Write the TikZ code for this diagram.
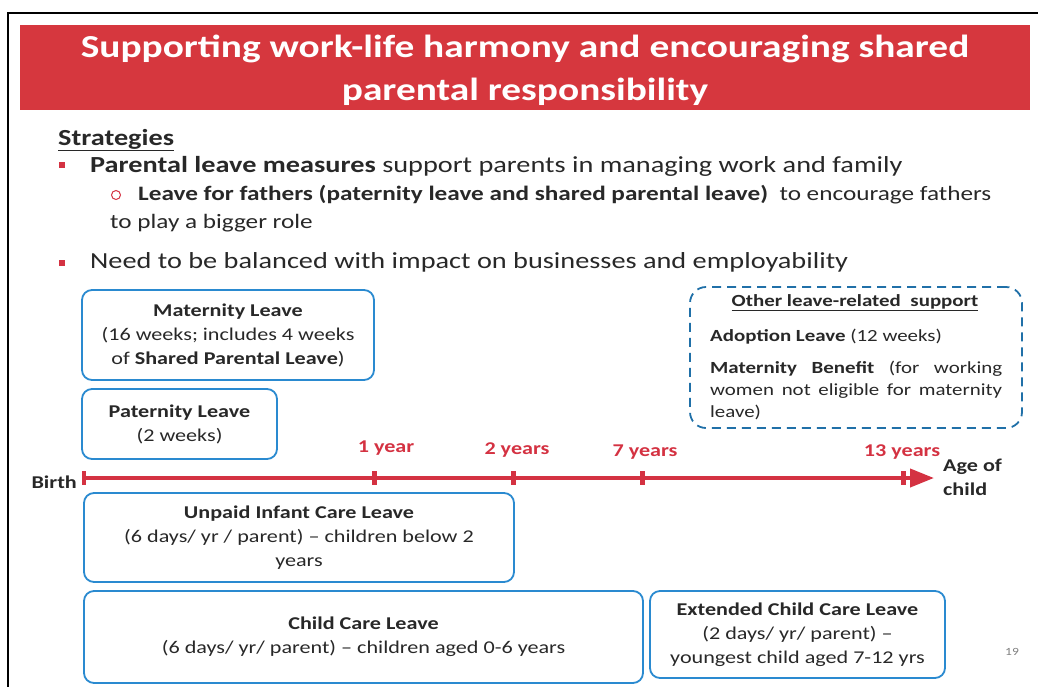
\documentclass[tikz,border=0pt]{standalone}
\usepackage{fontspec}
\setmainfont{Carlito}[FakeStretch=1.23]
\usetikzlibrary{positioning, arrows.meta}
\definecolor{bannerred}{RGB}{214,55,62}
\definecolor{boxblue}{RGB}{42,138,208}
\definecolor{dashblue}{RGB}{32,112,168}
\definecolor{axisred}{RGB}{212,50,66}
\definecolor{textgray}{RGB}{40,40,40}

\begin{document}
\begin{tikzpicture}[
	x=1pt, y=-1pt,
	leavebox/.style={draw=boxblue, line width=1.8pt, rounded corners=10pt, align=center, inner sep=0pt, text=textgray, font=\fontsize{18}{24}\selectfont},
	otherbox/.style={draw=dashblue, line width=1.8pt, dash pattern=on 9pt off 6pt, rounded corners=16pt, inner sep=0pt},
	bodytext/.style={anchor=base west, inner sep=0pt, text=textgray, font=\fontsize{23}{28}\selectfont},
	subtext/.style={anchor=base west, inner sep=0pt, text=textgray, font=\fontsize{20.5}{26}\selectfont},
	yearlabel/.style={anchor=base, inner sep=0pt, text=axisred, font=\bfseries\fontsize{18}{22}\selectfont},
	axislabel/.style={inner sep=0pt, text=textgray, font=\bfseries\fontsize{18}{24}\selectfont},
	bulletsq/.style={rectangle, fill=axisred, minimum size=6pt, inner sep=0pt},
	tick/.style={rectangle, fill=axisred, minimum width=5pt, minimum height=14pt, inner sep=0pt},
	>=LaTeX
]
\useasboundingbox (0,0) rectangle (1038,686);
\draw[line width=1.4pt] (8,13) rectangle (1060,710);

% title banner
\node[fill=bannerred, minimum width=1010pt, minimum height=85pt, inner sep=0pt] (banner) at (525,67.5) {};
\node[align=center, text=white, font=\bfseries\fontsize{32}{43}\selectfont] (title) at (525,70) {Supporting work-life harmony and encouraging shared\\parental responsibility};

% strategies
\node[bodytext] (strategies) at (58,145) {\bfseries\underline{Strategies}};
\node[bulletsq] (bullet1) at (62,165) {};
\node[bodytext] (point1) at (90,172) {\bfseries Parental leave measures \mdseries support parents in managing work and family};
\node[circle, draw=axisred, line width=1pt, minimum size=9pt, inner sep=0pt] (circ) at (116,195) {};
\node[subtext] (point1a) at (138,200) {\bfseries Leave for fathers (paternity leave and shared parental leave) \mdseries\ to encourage fathers};
\node[subtext] (point1b) at (110,228) {to play a bigger role};
\node[bulletsq] (bullet2) at (62,263) {};
\node[bodytext] (point2) at (90,268) {Need to be balanced with impact on businesses and employability};

% leave boxes
\node[leavebox, minimum width=292pt, minimum height=90pt] (maternity) at (228,335) {\bfseries Maternity Leave\\(16 weeks; includes 4 weeks\\of \bfseries Shared Parental Leave\mdseries)};
\node[leavebox, minimum width=195pt, minimum height=70pt] (paternity) at (179.5,424) {\bfseries Paternity Leave\\(2 weeks)};
\node[leavebox, minimum width=430pt, minimum height=89pt] (infant) at (299,537.5) {\bfseries Unpaid Infant Care Leave\\(6 days/ yr / parent) -- children below 2\\years};
\node[leavebox, minimum width=559pt, minimum height=92pt] (childcare) at (363.5,637) {\bfseries Child Care Leave\\(6 days/ yr/ parent) -- children aged 0-6 years};
\node[leavebox, minimum width=295pt, minimum height=87pt] (extended) at (797.5,634.5) {\bfseries Extended Child Care Leave\\(2 days/ yr/ parent) --\\youngest child aged 7-12 yrs};

% other support
\node[otherbox, minimum width=332pt, minimum height=141pt] (other) at (856,357.5) {};
\node[anchor=base, inner sep=0pt, text=textgray, font=\bfseries\fontsize{17}{22}\selectfont] (othertitle) at (855,306) {\underline{Other leave-related\ \ support}};
\node[anchor=base west, inner sep=0pt, text=textgray, font=\fontsize{17}{22}\selectfont] (adoption) at (710,341) {\bfseries Adoption Leave \mdseries(12 weeks)};
\node[anchor=north west, inner sep=0pt, text width=292pt, align=justify, text=textgray, font=\fontsize{17}{22}\selectfont] (benefit) at (710,361) {\hyphenpenalty=10000 \bfseries Maternity Benefit \mdseries (for working women not eligible for maternity leave)};

% timeline
\coordinate (birth) at (83,478);
\coordinate (axisend) at (934,478);
\draw[axisred, line width=4pt, -{Triangle[length=24pt,width=18pt]}] (birth) -- (axisend);
\node[tick, minimum width=4pt] (t0) at (84,478) {};
\node[tick] (t1) at (374,478) {};
\node[tick] (t2) at (513,478) {};
\node[tick] (t7) at (642,478) {};
\node[tick] (t13) at (903,478) {};
\node[yearlabel] (y1) at (386,452) {1 year};
\node[yearlabel] (y2) at (517,454) {2 years};
\node[yearlabel] (y7) at (645,456) {7 years};
\node[yearlabel] (y13) at (902,456) {13 years};
\node[axislabel, anchor=east] (birthlabel) at (77,482) {Birth};
\node[axislabel, align=left, anchor=west] (agelabel) at (943,477) {Age of\\child};

\node[inner sep=0pt, text=gray, font=\fontsize{11}{13}\selectfont] (page) at (1012,652) {19};
\end{tikzpicture}
\end{document}
